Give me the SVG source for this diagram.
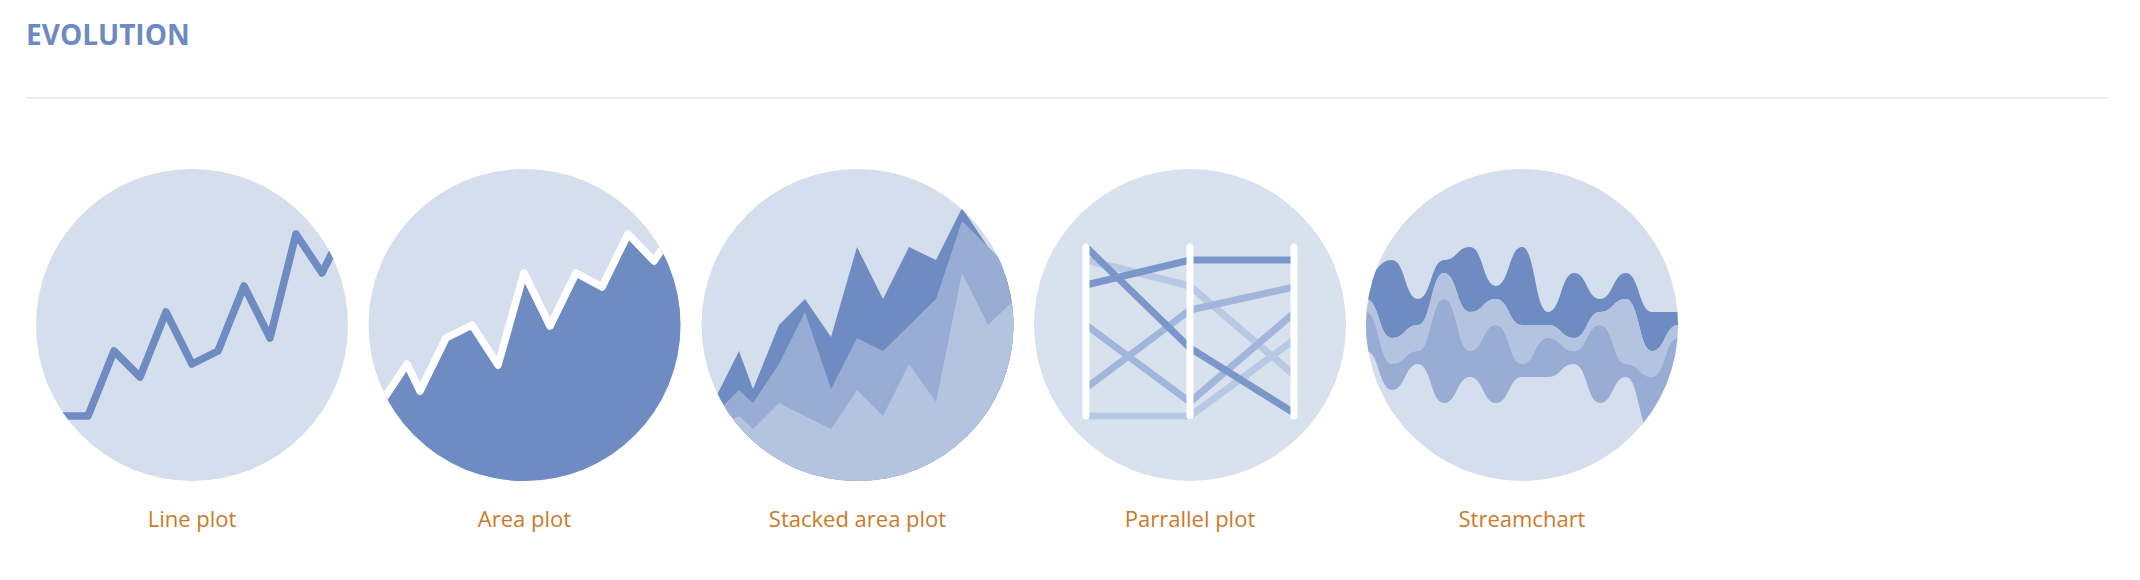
<svg xmlns="http://www.w3.org/2000/svg" width="2140" height="580" viewBox="0 0 2140 580">
<style>
text{font-family:"Open Sans","Noto Sans","Liberation Sans",sans-serif}
.title{font-size:28px;font-weight:700;fill:#6d8ac2}
.label{font-size:22px;fill:#cc7a29;text-anchor:middle}
.bg{fill:#d5deec}
.dark{fill:#6e8bc2}
.mid{fill:#98acd4}
.light{fill:#b3c3e0}
.ln{fill:none;stroke-linecap:round;stroke-linejoin:round;stroke-width:7.5}
.pl{fill:none;stroke-width:7}
.ax{stroke:#fff;stroke-width:7;stroke-linecap:round}
</style>
<defs>
<clipPath id="c1"><circle cx="192" cy="325" r="156"/></clipPath>
<clipPath id="c2"><circle cx="524.5" cy="325" r="156"/></clipPath>
<clipPath id="c3"><circle cx="857.5" cy="325" r="156"/></clipPath>
<clipPath id="c5"><circle cx="1522" cy="325" r="156"/></clipPath>
</defs>
<rect width="2140" height="580" fill="#fff"/>
<g id="header">
<text class="title" x="26" y="45">EVOLUTION</text>
<rect x="26" y="97" width="2082" height="2" fill="#eeeeee"/>
</g>
<g id="line-plot">
<circle class="bg" cx="192" cy="325" r="156"/>
<g clip-path="url(#c1)"><path class="ln" stroke="#6e8bc2" d="M36 416H88L114 351 140 377 166 312 192 364 218 351 244 286 270 338 296 234 322 273 348 221"/></g>
<text class="label" x="192" y="527">Line plot</text>
</g>
<g id="area-plot">
<circle class="bg" cx="524.5" cy="325" r="156"/>
<g clip-path="url(#c2)">
<path class="dark" d="M381 403L407 364 420 391 446 338 472 325 498 365 524 273 550 326 576 273 602 287 628 234 654 261 681 221V490H381Z"/>
<path class="ln" stroke="#fff" d="M381 403L407 364 420 391 446 338 472 325 498 365 524 273 550 326 576 273 602 287 628 234 654 261 681 221"/>
</g>
<text class="label" x="524.5" y="527">Area plot</text>
</g>
<g id="stacked-area-plot">
<circle class="bg" cx="857.5" cy="325" r="156"/>
<g clip-path="url(#c3)">
<path class="dark" d="M700 429L739 351 753 389 779 325 805 299 831 337 857 247 883 299 909 247 936 260 962 208 988 247 1014 273V490H700Z"/>
<path class="mid" d="M700 429L739 390 753 403 779 364 805 312 831 389 857 338 883 351 936 299 962 221 988 247 1014 273V490H700Z"/>
<path class="light" d="M700 435L739 416 753 429 779 403 831 429 857 390 883 416 909 364 936 402 962 273 988 325 1014 300V490H700Z"/>
</g>
<text class="label" x="857.5" y="527">Stacked area plot</text>
</g>
<g id="parallel-plot">
<circle cx="1190" cy="325" r="156" fill="#d8e1ee"/>
<g class="pl">
<path stroke="#b9c9e4" d="M1086 260L1190 286 1294 375"/>
<path stroke="#b9c9e4" d="M1086 416H1190L1294 340"/>
<path stroke="#a2b5db" d="M1086 325L1190 402 1294 313"/>
<path stroke="#a2b5db" d="M1086 388L1190 310 1294 287"/>
<path stroke="#7b97ca" d="M1086 247L1190 348 1294 413"/>
<path stroke="#7b97ca" d="M1086 285L1190 260H1294"/>
</g>
<g class="ax">
<line x1="1086" y1="247" x2="1086" y2="416"/>
<line x1="1190" y1="247" x2="1190" y2="416"/>
<line x1="1294" y1="247" x2="1294" y2="416"/>
</g>
<text class="label" x="1190" y="527">Parrallel plot</text>
</g>
<g id="streamchart">
<circle class="bg" cx="1522" cy="325" r="156"/>
<g clip-path="url(#c5)">
<path class="dark" d="M1366 273C1379 273 1379 260 1392 260S1405 299 1418 299 1431 260 1444 260 1457 247 1470 247 1483 286 1496 286 1509 247 1522 247 1535 312 1548 312 1561 273 1574 273 1587 299 1600 299 1613 273 1626 273 1639 312 1652 312 1665 312 1678 312L1678 325C1665 325 1665 351 1652 351S1639 299 1626 299 1613 312 1600 312 1587 338 1574 338 1561 325 1548 325 1535 325 1522 325 1509 299 1496 299 1483 312 1470 312 1457 273 1444 273 1431 325 1418 325 1405 338 1392 338 1379 299 1366 299Z"/>
<path class="light" d="M1366 299C1379 299 1379 338 1392 338S1405 325 1418 325 1431 273 1444 273 1457 312 1470 312 1483 299 1496 299 1509 325 1522 325 1535 325 1548 325 1561 338 1574 338 1587 312 1600 312 1613 299 1626 299 1639 351 1652 351 1665 325 1678 325L1678 338C1665 338 1665 377 1652 377S1639 364 1626 364 1613 325 1600 325 1587 351 1574 351 1561 338 1548 338 1535 364 1522 364 1509 325 1496 325 1483 351 1470 351 1457 299 1444 299 1431 351 1418 351 1405 364 1392 364 1379 312 1366 312Z"/>
<path class="mid" d="M1366 312C1379 312 1379 364 1392 364S1405 351 1418 351 1431 299 1444 299 1457 351 1470 351 1483 325 1496 325 1509 364 1522 364 1535 338 1548 338 1561 351 1574 351 1587 325 1600 325 1613 364 1626 364 1639 377 1652 377 1665 338 1678 338L1678 433C1665 433 1665 433 1652 433S1639 377 1626 377 1613 403 1600 403 1587 364 1574 364 1561 377 1548 377 1535 377 1522 377 1509 403 1496 403 1483 377 1470 377 1457 403 1444 403 1431 364 1418 364 1405 390 1392 390 1379 351 1366 351Z"/>
</g>
<text class="label" x="1522" y="527">Streamchart</text>
</g>
</svg>
